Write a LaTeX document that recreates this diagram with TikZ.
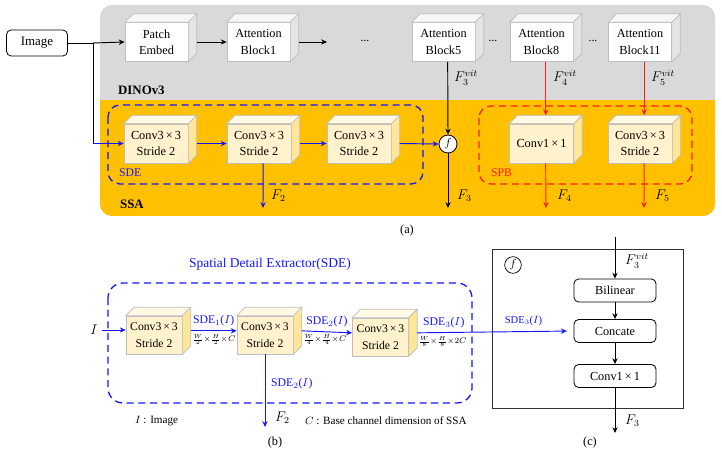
\documentclass[tikz,border=0pt]{standalone}
\usepackage{fontspec}
\setmainfont{Liberation Serif}
\usetikzlibrary{arrows.meta,positioning,calc}
\definecolor{dinogray}{RGB}{217,217,217}
\definecolor{ssaorange}{RGB}{255,192,0}
\definecolor{convfront}{RGB}{255,242,204}
\definecolor{convtop}{RGB}{255,249,230}
\definecolor{convside}{RGB}{255,230,153}
\definecolor{vittop}{RGB}{246,246,246}
\definecolor{vitside}{RGB}{229,229,229}
\definecolor{cubeedge}{RGB}{190,190,190}
\definecolor{sdeblue}{RGB}{20,20,255}
\definecolor{spbred}{RGB}{255,30,30}
\newcommand{\cubedepth}{0.25cm}
\newcommand{\cubefaces}[3]{%
  \draw[cubeline, fill=#2] (#1.north west) -- ++(\cubedepth,\cubedepth) -- ([shift={(\cubedepth,\cubedepth)}]#1.north east) -- (#1.north east) -- cycle;
  \draw[cubeline, fill=#3] (#1.north east) -- ([shift={(\cubedepth,\cubedepth)}]#1.north east) -- ([shift={(\cubedepth,\cubedepth)}]#1.south east) -- (#1.south east) -- cycle;
}
\tikzset{
  cubeline/.style={draw=cubeedge, line width=0.6pt},
  vitbox/.style={cubeline, fill=white, minimum width=1.89cm, minimum height=1.17cm, align=center, inner sep=1pt, font=\fontsize{10.5}{14}\selectfont},
  convbox/.style={cubeline, fill=convfront, minimum width=1.92cm, minimum height=1.17cm, align=center, inner sep=1pt, font=\fontsize{10.5}{14}\selectfont},
  smallconv/.style={convbox, minimum width=1.68cm, minimum height=1.14cm, font=\fontsize{10}{14}\selectfont},
  roundbox/.style={draw=black, fill=white, rounded corners=4pt, line width=0.7pt, align=center, font=\fontsize{10.5}{13}\selectfont, minimum width=2.46cm, minimum height=0.69cm},
  arr/.style={-{Stealth[length=5pt,width=4.5pt]}, line width=0.8pt},
  plain/.style={line width=0.8pt},
  dashbox/.style={dashed, dash pattern=on 6pt off 4pt, line width=1.1pt},
  flabel/.style={anchor=west, font=\fontsize{12}{14}\selectfont},
  lab/.style={font=\fontsize{10}{12}\selectfont},
  fraclab/.style={text=black, font=\fontsize{7}{8}\selectfont, inner sep=1pt, anchor=north west},
  caption/.style={font=\fontsize{10.5}{12}\selectfont}
}
\begin{document}
\begin{tikzpicture}[x=0.03cm, y=-0.03cm]
  \useasboundingbox (0,0) rectangle (722,457);

  % DINOv3 / SSA panels
  \fill[dinogray, rounded corners=0.36cm] (100,5) rectangle (715,216);
  \begin{scope}
    \clip (100,101) rectangle (715,217);
    \fill[ssaorange, rounded corners=0.36cm] (100,5) rectangle (715,216);
  \end{scope}
  \node[anchor=west, font=\fontsize{11}{13}\selectfont\bfseries] (dinolab) at (114,90) {DINOv3};
  \node[anchor=west, font=\fontsize{11}{13}\selectfont\bfseries] (ssalab) at (116,204) {SSA};

  % dashed groups
  \draw[sdeblue, dashbox, rounded corners=0.36cm] (108,105) rectangle (423,184);
  \node[anchor=west, text=sdeblue, lab] (sdelab) at (115,173) {SDE};
  \draw[spbred, dashbox, rounded corners=0.36cm] (479,106) rectangle (692,184);
  \node[anchor=west, text=spbred, lab] (spblab) at (487,173) {SPB};

  % input image
  \node[roundbox, minimum width=1.83cm, minimum height=0.78cm, font=\fontsize{11}{13}\selectfont] (img) at (37,43) {Image};

  % ViT blocks
  \node[vitbox] (pe) at (156.5,42) {Patch\\Embed};
  \node[vitbox] (ab1) at (258.5,42) {Attention\\Block1};
  \node[lab] (dots1) at (365,41) {...};
  \node[vitbox] (ab5) at (443.5,42) {Attention\\Block5};
  \node[lab] (dots2) at (493,41) {...};
  \node[vitbox] (ab8) at (541.5,42) {Attention\\Block8};
  \node[lab] (dots3) at (593,41) {...};
  \node[vitbox] (ab11) at (640,42) {Attention\\Block11};
  \foreach \b in {pe,ab1,ab5,ab8,ab11} {\cubefaces{\b}{vittop}{vitside}}

  % SSA convolutions
  \node[convbox] (c1) at (156,143.5) {Conv3\,×\,3\\Stride 2};
  \node[convbox] (c2) at (259,143.5) {Conv3\,×\,3\\Stride 2};
  \node[convbox] (c3) at (359,143.5) {Conv3\,×\,3\\Stride 2};
  \node[convbox] (c4) at (541.5,143.5) {Conv1\,×\,1};
  \node[convbox] (c5) at (640,143.5) {Conv3\,×\,3\\Stride 2};
  \foreach \b in {c1,c2,c3,c4,c5} {\cubefaces{\b}{convtop}{convside}}
  \node[circle, draw=black, fill=white, line width=0.7pt, inner sep=0pt, minimum size=0.54cm] (fuse) at (448,144) {$f$};

  % top connectors
  \coordinate (split) at (93,43);
  \coordinate (tip1) at (327,42);
  \draw[plain] (img.east) -- (split);
  \draw[arr] (split) -- (pe.west);
  \draw[arr] ([xshift=\cubedepth]pe.east) -- (ab1.west);
  \draw[arr] ([xshift=\cubedepth]ab1.east) -- (tip1);
  \draw[plain] (split) -- (split |- c1.west);
  \draw[arr, sdeblue] (split |- c1.west) -- (c1.west);
  \draw[arr, sdeblue] ([xshift=\cubedepth]c1.east) -- (c2.west);
  \draw[arr, sdeblue] ([xshift=\cubedepth]c2.east) -- (c3.west);
  \draw[arr, sdeblue] ([xshift=\cubedepth]c3.east) -- (fuse.west);
  \draw[arr] ([xshift=\cubedepth/2]ab5.south) -- (fuse.north);
  \draw[arr, spbred] ([xshift=\cubedepth/2]ab8.south) -- ([xshift=\cubedepth/2, yshift=\cubedepth]c4.north);
  \draw[arr, spbred] ([xshift=\cubedepth/2]ab11.south) -- ([xshift=\cubedepth/2, yshift=\cubedepth]c5.north);

  \coordinate (f2out) at (263,208);
  \coordinate (f3out) at (448,208);
  \coordinate (f4out) at (546,208);
  \coordinate (f5out) at (644,208);
  \draw[arr, sdeblue] ([xshift=\cubedepth/2]c2.south) -- (f2out);
  \draw[arr] (fuse.south) -- (f3out);
  \draw[arr, spbred] ([xshift=\cubedepth/2]c4.south) -- (f4out);
  \draw[arr, spbred] ([xshift=\cubedepth/2]c5.south) -- (f5out);

  \node[flabel] (lf3v) at (450,78) {$F_3^{vit}$};
  \node[flabel] (lf4v) at (549,78) {$F_4^{vit}$};
  \node[flabel] (lf5v) at (647,78) {$F_5^{vit}$};
  \node[flabel] (lf2) at (267,196) {$F_2$};
  \node[flabel] (lf3) at (453,196) {$F_3$};
  \node[flabel] (lf4) at (553,196) {$F_4$};
  \node[flabel] (lf5) at (651,196) {$F_5$};
  \node[caption] (capa) at (407,231) {(a)};

  % (b) spatial detail extractor
  \node[text=sdeblue, font=\fontsize{11.5}{13}\selectfont] (sdetitle) at (270,264) {Spatial Detail Extractor(SDE)};
  \draw[sdeblue, dashbox, rounded corners=0.45cm] (108,283) rectangle (472,403);
  \node[smallconv] (b1) at (154,335) {Conv3\,×\,3\\Stride 2};
  \node[smallconv] (b2) at (265,335) {Conv3\,×\,3\\Stride 2};
  \node[smallconv] (b3) at (380.5,337) {Conv3\,×\,3\\Stride 2};
  \foreach \b in {b1,b2,b3} {\cubefaces{\b}{convtop}{convside}}
  \node[font=\fontsize{12}{14}\selectfont] (inI) at (94,330) {$I$};
  \draw[arr, sdeblue] (inI.east) -- (inI.east -| b1.west);
  \draw[arr, sdeblue] ([xshift=\cubedepth, yshift=\cubedepth/2]b1.east) -- node[above, lab] {SDE$_1$($I$)} node[pos=0, fraclab, yshift=-2pt] {$\frac{W}{2}{\times}\frac{H}{2}{\times}C$} ([yshift=\cubedepth/2]b2.west);
  \draw[arr, sdeblue] ([xshift=\cubedepth, yshift=\cubedepth/2]b2.east) -- node[above, lab] {SDE$_2$($I$)} node[pos=0, fraclab, yshift=-2pt] {$\frac{W}{4}{\times}\frac{H}{4}{\times}C$} ([yshift=\cubedepth/2]b3.west);
  \coordinate (f2b) at (265,427);
  \draw[arr, sdeblue] (b2.south) -- (f2b);
  \node[anchor=west, text=sdeblue, lab] (sde2lab) at (267,384) {SDE$_2$($I$)};
  \node[flabel] (lf2b) at (271,418) {$F_2$};
  \node[anchor=west, font=\fontsize{9.5}{11}\selectfont] (noteI) at (131,421) {$I$ : Image};
  \node[anchor=west, font=\fontsize{9.5}{11}\selectfont] (noteC) at (301,421) {$C$ : Base channel dimension of SSA};
  \node[caption] (capb) at (275,443) {(b)};

  % (c) fusion module
  \draw[line width=0.7pt, black!80] (492,249) rectangle (683,408);
  \node[circle, draw=black, line width=0.6pt, inner sep=0pt, minimum size=0.5cm] (fsmall) at (513,265) {$f$};
  \node[roundbox] (bil) at (615,290.5) {Bilinear};
  \node[roundbox] (cc) at (615,331) {Concate};
  \node[roundbox] (cv) at (615,376) {Conv1\,×\,1};
  \coordinate (f3in) at (615,237);
  \coordinate (f3c) at (615,433);
  \draw[arr] (f3in) -- (bil.north);
  \draw[arr] (bil) -- (cc);
  \draw[arr] (cc) -- (cv);
  \draw[arr] (cv.south) -- (f3c);
  \draw[arr, sdeblue, shorten >=0.2cm] ([xshift=\cubedepth, yshift=\cubedepth/2]b3.east) -- node[pos=0.17, above, lab] {SDE$_3$($I$)} node[pos=0, fraclab, yshift=-2pt] {$\frac{W}{8}{\times}\frac{H}{8}{\times}2C$} node[pos=0.68, above=1pt, text=sdeblue, font=\fontsize{9}{11}\selectfont] {SDE$_3$($I$)} (cc.west);
  \node[flabel] (lf3vc) at (621,261) {$F_3^{vit}$};
  \node[flabel] (lf3c) at (621,421) {$F_3$};
  \node[caption] (capc) at (590,443) {(c)};
\end{tikzpicture}
\end{document}
